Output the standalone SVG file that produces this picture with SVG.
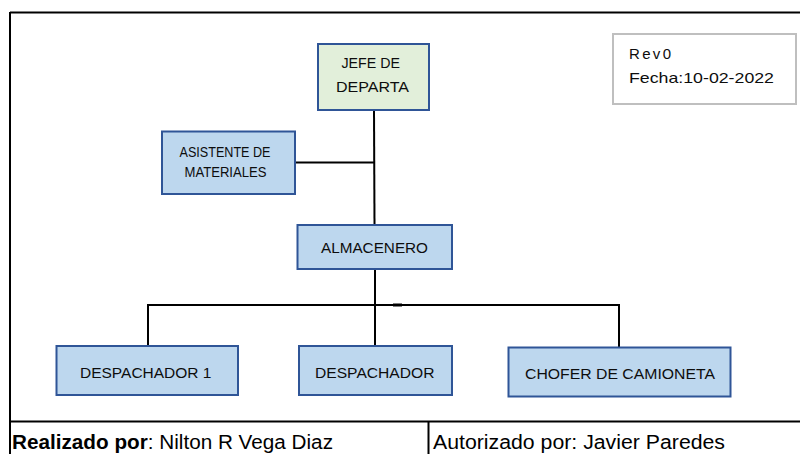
<svg xmlns="http://www.w3.org/2000/svg" width="800" height="454" viewBox="0 0 800 454">
<style>
.box{fill:#BDD7EE;stroke:#2F5597;stroke-width:2}
.green{fill:#E2EFDA;stroke:#2F5597;stroke-width:2}
.lbl{font-family:"Liberation Sans",Arial,sans-serif;font-size:15px;fill:#0D0D0D}
.sm{font-size:14px}
.con{stroke:#000;stroke-width:2;fill:none}
.frame{stroke:#000;stroke-width:2;fill:none}
.foot{font-family:"Liberation Sans",Arial,sans-serif;font-size:20px;fill:#000}
</style>
<rect x="0" y="0" width="800" height="454" fill="#fff"/>
<g id="frame">
<line class="frame" x1="10" y1="12.5" x2="800" y2="12.5"/>
<line class="frame" x1="10" y1="12" x2="10" y2="454"/>
<line class="frame" x1="10" y1="421.5" x2="800" y2="421.5"/>
<line class="frame" x1="428.5" y1="421" x2="428.5" y2="454"/>
</g>
<g id="connectors">
<line class="con" x1="374" y1="110" x2="374.5" y2="225"/>
<line class="con" x1="295" y1="162.5" x2="374" y2="162.5"/>
<line class="con" x1="375" y1="269" x2="375" y2="346"/>
<polyline class="con" points="148,346 148,305 619,305 619,347"/>
<line x1="393" y1="305" x2="402" y2="305" stroke="#000" stroke-width="3"/>
</g>
<g id="rev">
<rect x="613" y="34" width="183" height="70" fill="#fff" stroke="#BFBFBF" stroke-width="2"/>
<text class="lbl" x="629" y="59" textLength="42" lengthAdjust="spacing">Rev0</text>
<text class="lbl" x="629" y="83" textLength="145" lengthAdjust="spacingAndGlyphs">Fecha:10-02-2022</text>
</g>
<g id="jefe">
<rect class="green" x="318" y="44" width="111" height="66"/>
<text class="lbl" x="341.5" y="67.5" textLength="58.5" lengthAdjust="spacingAndGlyphs">JEFE DE</text>
<text class="lbl" x="336" y="92" textLength="73" lengthAdjust="spacingAndGlyphs">DEPARTA</text>
</g>
<g id="asistente">
<rect class="box" x="162" y="131.5" width="133" height="62.5"/>
<text class="lbl sm" x="179.5" y="157" textLength="91" lengthAdjust="spacingAndGlyphs">ASISTENTE DE</text>
<text class="lbl sm" x="184.5" y="177" textLength="82" lengthAdjust="spacingAndGlyphs">MATERIALES</text>
</g>
<g id="almacenero">
<rect class="box" x="297.5" y="225" width="154.5" height="44"/>
<text class="lbl" x="321" y="253" textLength="107" lengthAdjust="spacingAndGlyphs">ALMACENERO</text>
</g>
<g id="despachador1">
<rect class="box" x="56.5" y="346" width="181.5" height="49"/>
<text class="lbl" x="80" y="377.5" textLength="131.5" lengthAdjust="spacingAndGlyphs">DESPACHADOR 1</text>
</g>
<g id="despachador">
<rect class="box" x="299" y="346" width="153" height="49"/>
<text class="lbl" x="315" y="377.5" textLength="119.5" lengthAdjust="spacingAndGlyphs">DESPACHADOR</text>
</g>
<g id="chofer">
<rect class="box" x="508.5" y="347.5" width="222" height="49"/>
<text class="lbl" x="525" y="379" textLength="190" lengthAdjust="spacingAndGlyphs">CHOFER DE CAMIONETA</text>
</g>
<g id="footer">
<text class="foot" x="12" y="449" textLength="321" lengthAdjust="spacingAndGlyphs"><tspan font-weight="bold">Realizado por</tspan>: Nilton R Vega Diaz</text>
<text class="foot" x="433" y="449" textLength="292" lengthAdjust="spacingAndGlyphs">Autorizado por: Javier Paredes</text>
</g>
</svg>
